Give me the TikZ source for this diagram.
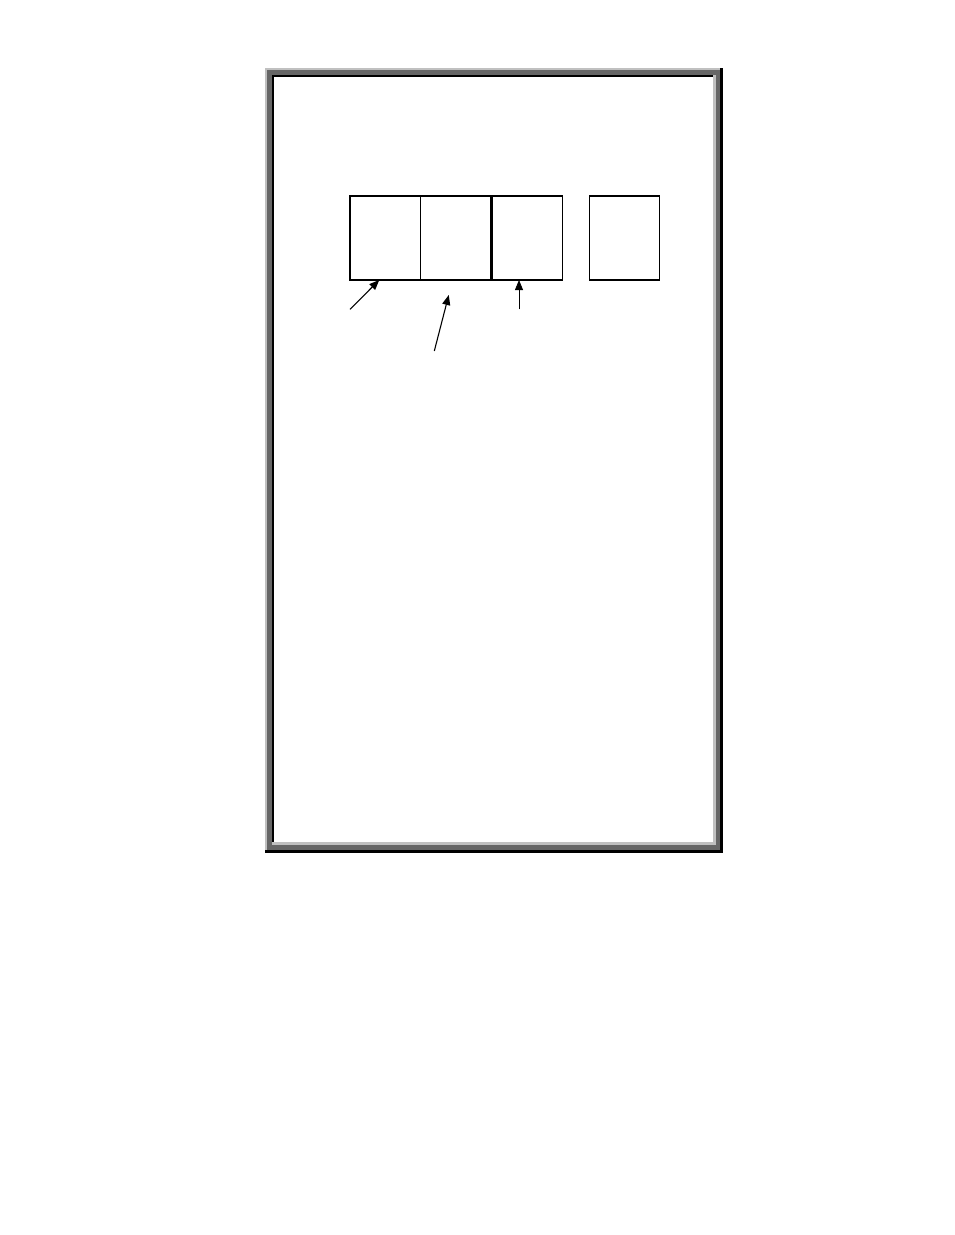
\documentclass[tikz,border=0pt]{standalone}
\usepackage{xcolor}
\usepackage{tikz}
\usetikzlibrary{calc,positioning,arrows.meta}
\definecolor{paper}{HTML}{FFFFFF}
\definecolor{ink}{HTML}{000000}
\definecolor{bevlight}{HTML}{C0C0C0}
\definecolor{bevdark}{HTML}{666666}
\tikzset{
  cell/.style={draw=ink, line width=1.1pt, minimum width=70.5pt, minimum height=84pt,
    inner sep=0pt, outer sep=0pt, anchor=north west},
  pointer/.style={draw=ink, line width=1.1pt, -{Triangle[length=10pt,width=8pt]}},
  thinpointer/.style={pointer, line width=0.8pt},
}
\begin{document}
\begin{tikzpicture}[x=1pt,y=-1pt]
  \useasboundingbox (0,0) rectangle (954,1235);
  % bevelled frame
  \fill[ink] (265,68) rectangle (722.5,852.7);
  \fill[bevlight] (265,68) rectangle (719.5,849.5);
  \fill[bevdark] (267,70) rectangle (719.5,849.5);
  \fill[bevlight] (271.7,74.7) rectangle (716,845);
  \fill[ink] (271.7,74.7) rectangle (712.7,841.7);
  \fill[paper] (274,76.7) rectangle (712.7,841.7);
  % cells
  \node[cell] (box1) at (350,196) {};
  \node[cell, right=0pt of box1.north east, anchor=north west] (box2) {};
  \node[cell, right=1pt of box2.north east, anchor=north west] (box3) {};
  \node[cell] (box4) at (589.3,196) {};
  % pointers
  \coordinate (s1) at (350,309.3);
  \coordinate (s2) at (434.3,351);
  \coordinate (s3) at (519,309.3);
  \coordinate (t2) at ([xshift=-7pt,yshift=-15pt]box2.south);
  \draw[pointer] (s1) -- ([xshift=-6pt]box1.south);
  \draw[pointer] (s2) -- (t2);
  \draw[thinpointer] (s3) -- (s3 |- box3.south);
\end{tikzpicture}
\end{document}
